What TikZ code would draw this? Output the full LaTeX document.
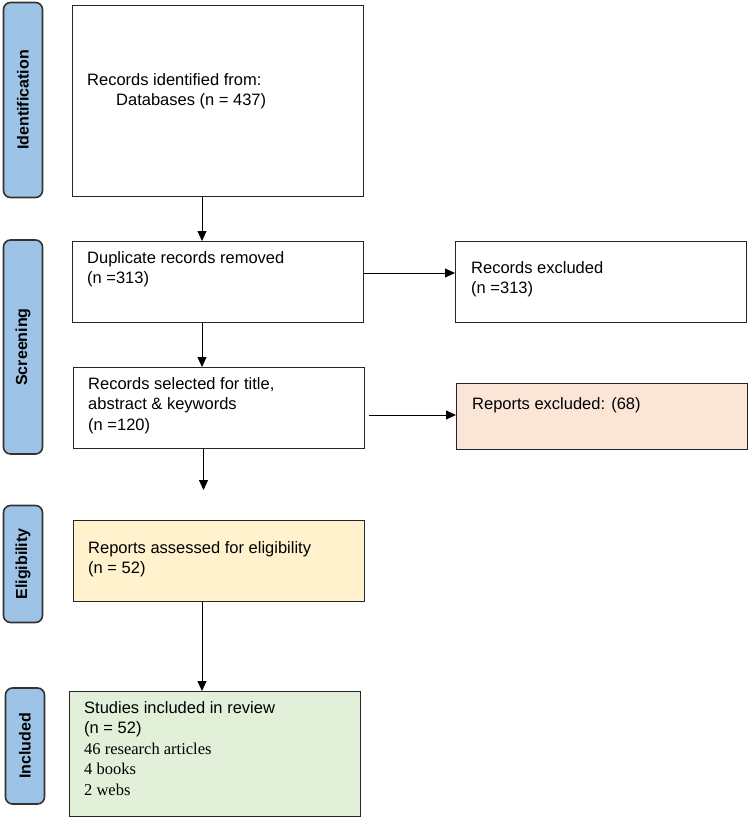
\documentclass[tikz,border=0pt]{standalone}
\usepackage{fontspec}
\setmainfont{Liberation Sans}
\newfontfamily\serifface{Liberation Serif}
\usetikzlibrary{arrows.meta,calc,positioning}
\definecolor{stagefill}{HTML}{9DC3E6}
\definecolor{peach}{HTML}{FBE5D6}
\definecolor{paleyellow}{HTML}{FFF2CC}
\definecolor{palegreen}{HTML}{E2F0D9}
\begin{document}
\begin{tikzpicture}[x=1pt,y=-1pt,
  >={Triangle[length=10pt,width=9pt]},
  stage/.style={rectangle,rounded corners=7pt,draw=black!80,line width=1.6pt,
    fill=stagefill,rotate=90,minimum height=39pt,inner sep=0pt,
    font=\fontsize{16}{18}\selectfont\bfseries},
  box/.style={rectangle,draw=black!85,line width=1.4pt,anchor=north west,
    minimum width=291pt,inner sep=0pt},
  txt/.style={anchor=north west,align=left,inner sep=0pt,
    font=\fontsize{16.5}{20.5}\selectfont},
  flow/.style={->,line width=0.8pt}]

  \useasboundingbox (0,0) rectangle (749,819);

  % stage labels
  \node[stage,minimum width=195pt] (sid) at (23,100) {Identification};
  \node[stage,minimum width=214pt] (sscr) at (23,347) {Screening};
  \node[stage,minimum width=117pt] (selig) at (23,564) {Eligibility};
  \node[stage,minimum width=116pt] (sinc) at (25,746) {Included};

  % boxes
  \node[box,minimum height=191pt] (ident) at (72,5) {};
  \node[box,minimum height=81pt] (dup) at (72,241) {};
  \node[box,minimum height=81pt] (recx) at (455,241) {};
  \node[box,minimum height=81pt] (sel) at (73,367) {};
  \node[box,minimum height=66pt,fill=peach] (repx) at (456,383) {};
  \node[box,minimum height=81pt,fill=paleyellow] (elig) at (73,520) {};
  \node[box,minimum height=125pt,fill=palegreen] (incl) at (69,691) {};

  % texts
  \node[txt] at ($(ident.north west)+(15,68)$)
    {Records identified from:\\\hspace*{29pt}Databases (n = 437)};
  \node[txt] at ($(dup.north west)+(15,10)$) {Duplicate records removed\\(n =313)};
  \node[txt] at ($(recx.north west)+(16,20)$) {Records excluded\\(n =313)};
  \node[txt] at ($(sel.north west)+(15,10)$)
    {Records selected for title,\\abstract \& keywords\\(n =120)};
  \node[txt] at ($(repx.north west)+(16,14)$) {Reports excluded: (68)};
  \node[txt] at ($(elig.north west)+(15,21)$) {Reports assessed for eligibility\\(n = 52)};
  \node[txt] at ($(incl.north west)+(15,10)$)
    {Studies included in review\\(n = 52)\\
     {\serifface 46 research articles}\\{\serifface 4 books}\\{\serifface 2 webs}};

  \coordinate (gap) at (203.5,490);

  % arrows
  \draw[flow] (ident.south -| 202,0) -- (dup.north -| 202,0);
  \draw[flow] (dup.east |- 0,273) -- (recx.west |- 0,273);
  \draw[flow] (dup.south -| 202,0) -- (sel.north -| 202,0);
  \draw[flow] ($(sel.east |- 0,415)+(4,0)$) -- (repx.west |- 0,415);
  \draw[flow] (sel.south -| gap) -- (gap);
  \draw[flow] (elig.south -| 202,0) -- (incl.north -| 202,0);
\end{tikzpicture}
\end{document}
